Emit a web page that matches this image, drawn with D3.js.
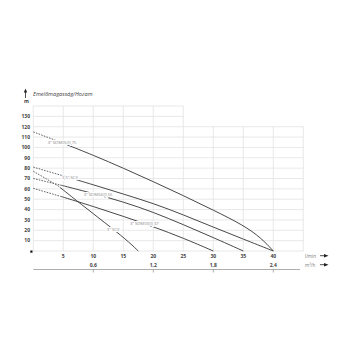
<!DOCTYPE html>
<html>
<head>
<meta charset="utf-8">
<script src="https://cdn.jsdelivr.net/npm/d3@7"></script>
<style>
  body { margin: 0; background: #fff; }
  text { font-family: "Open Sans", "DejaVu Sans", sans-serif; }
</style>
</head>
<body>
<script>
// pump curves, Q in l/min, H in m
var names = ['3" SDM05/0,75', '3,5" SCX', '3" SDM04/0,55', '3" SDM03/0,37', '3" SCX'];
var curveA = [[0,115],[5,104],[10,92.5],[15,80],[20,67],[25,53.5],[30,39.5],[35,25],[38,12.5],[40,0]];
var curveB = [[0,81],[5,72.5],[10,64],[15,55],[20,46],[25,35],[30,23],[35,11.5],[40,0]];
var curveC = [[0,70],[5,63],[10,55.5],[15,47.5],[20,37.5],[25,25.5],[30,13],[35,0]];
var curveD = [[0,60.5],[5,52],[10,43],[15,33.5],[20,23.5],[25,12.5],[30,0]];
var curveE = [[0,77],[4,63.5],[8,45],[12,27],[15.5,11],[17.5,0]];
var labelAt = [4.8, 6.1, 10.8, 18.5, 13.3];
var dashUntil = 4.5;

var xTicks = [5,10,15,20,25,30,35,40];
var yTicks = [10,20,30,40,50,60,70,80,90,100,110,120,130];
var m3Ticks = [0.6,1.2,1.8,2.4];

var curves = [curveA, curveB, curveC, curveD, curveE];

var W = 350, H = 350;
var svg = d3.select("body").append("svg")
    .attr("width", W)
    .attr("height", H);

var x = d3.scaleLinear().domain([0, 45]).range([33.3, 303.3]);
var x2 = d3.scaleLinear().domain([0, 2.7]).range([33.3, 303.3]);
var y = d3.scaleLinear().domain([0, 140]).range([251, 106]);

var grid = svg.append("g").attr("stroke", "#e2e2e2").attr("stroke-width", 0.8);

// horizontal grid: left block up to 140, right block up to 120
d3.range(0, 150, 10).forEach(function(h) {
  grid.append("line")
    .attr("x1", x(0)).attr("x2", h <= 120 ? x(45) : x(25))
    .attr("y1", y(h)).attr("y2", y(h));
});
d3.range(0, 50, 5).forEach(function(q) {
  grid.append("line")
    .attr("x1", x(q)).attr("x2", x(q))
    .attr("y1", y(0)).attr("y2", q <= 25 ? y(140) : y(120));
});

// y labels
svg.append("g").selectAll("text")
  .data(yTicks).enter().append("text")
  .attr("x", 30).attr("y", function(d) { return y(d) + 1.8; })
  .attr("text-anchor", "end")
  .attr("font-size", 5).attr("font-weight", "bold").attr("fill", "#444")
  .text(function(d) { return d; });

svg.append("text").attr("x", 26.5).attr("y", 103)
  .attr("text-anchor", "middle")
  .attr("font-size", 5).attr("font-weight", "bold").attr("fill", "#444")
  .text("m");

// y arrow and title
svg.append("line").attr("x1", 25.5).attr("x2", 25.5).attr("y1", 98).attr("y2", 91)
  .attr("stroke", "#222").attr("stroke-width", 0.8);
svg.append("path").attr("d", "M23.8,92.5 L25.5,88.5 L27.2,92.5 Z").attr("fill", "#222");
svg.append("text").attr("x", 33).attr("y", 96)
  .attr("font-size", 5.6).attr("font-style", "italic").attr("fill", "#444")
  .text("Emelőmagasság/Hozam");

// origin marker
svg.append("rect").attr("x", x(0) - 3).attr("y", y(0) - 0.5).attr("width", 2.2).attr("height", 2.2)
  .attr("fill", "#111");

// l/min labels
svg.append("g").selectAll("text")
  .data(xTicks).enter().append("text")
  .attr("x", function(d) { return x(d); }).attr("y", 257.5)
  .attr("text-anchor", "middle")
  .attr("font-size", 5).attr("font-weight", "bold").attr("fill", "#444")
  .text(function(d) { return d; });

// m3/h axis
var fmt = function(d) { return d3.format(".1f")(d).replace(".", ","); };
svg.append("line").attr("x1", x2(0)).attr("x2", 300).attr("y1", 269.5).attr("y2", 269.5)
  .attr("stroke", "#999").attr("stroke-width", 0.8);
svg.append("g").selectAll("line")
  .data(m3Ticks).enter().append("line")
  .attr("x1", function(d) { return x2(d); }).attr("x2", function(d) { return x2(d); })
  .attr("y1", 269.5).attr("y2", 272.5)
  .attr("stroke", "#999").attr("stroke-width", 0.8);
svg.append("g").selectAll("text")
  .data(m3Ticks).enter().append("text")
  .attr("x", function(d) { return x2(d); }).attr("y", 266.5)
  .attr("text-anchor", "middle")
  .attr("font-size", 5).attr("font-weight", "bold").attr("fill", "#444")
  .text(fmt);

// unit labels with arrows
[["l/min", 257.5], ["m³/h", 266.5]].forEach(function(u) {
  svg.append("text").attr("x", 305).attr("y", u[1])
    .attr("font-size", 4.6).attr("fill", "#777").text(u[0]);
  svg.append("line").attr("x1", 320).attr("x2", 325).attr("y1", u[1] - 1.8).attr("y2", u[1] - 1.8)
    .attr("stroke", "#222").attr("stroke-width", 0.8);
  svg.append("path")
    .attr("d", "M324," + (u[1] - 3.5) + " L328.5," + (u[1] - 1.8) + " L324," + (u[1] - 0.1) + " Z")
    .attr("fill", "#222");
});

// curves
var line = d3.line()
  .x(function(d) { return x(d[0]); })
  .y(function(d) { return y(d[1]); })
  .curve(d3.curveBasis);

function valueAt(c, q) {
  var fn = d3.scaleLinear().domain(c.map(function(d) { return d[0]; })).range(c.map(function(d) { return d[1]; }));
  return fn(q);
}

curves.forEach(function(c, i) {
  var h0 = valueAt(c, dashUntil);
  var dashed = c.filter(function(d) { return d[0] < dashUntil; }).concat([[dashUntil, h0]]);
  var solid = [[dashUntil, h0]].concat(c.filter(function(d) { return d[0] > dashUntil; }));
  svg.append("path").attr("d", line(dashed))
    .attr("fill", "none").attr("stroke", "#555").attr("stroke-width", 0.9)
    .attr("stroke-dasharray", "1.6,1.2");
  svg.append("path").attr("d", line(solid))
    .attr("fill", "none").attr("stroke", "#333").attr("stroke-width", 0.9);
});

// curve labels
curves.forEach(function(c, i) {
  var q = labelAt[i];
  svg.append("text")
    .attr("x", x(q)).attr("y", y(valueAt(c, q)) + 1.4)
    .attr("text-anchor", "middle")
    .attr("font-size", 4.2).attr("fill", "#888")
    .attr("stroke", "#fff").attr("stroke-width", 2).attr("paint-order", "stroke")
    .text(names[i]);
});
</script>
</body>
</html>
